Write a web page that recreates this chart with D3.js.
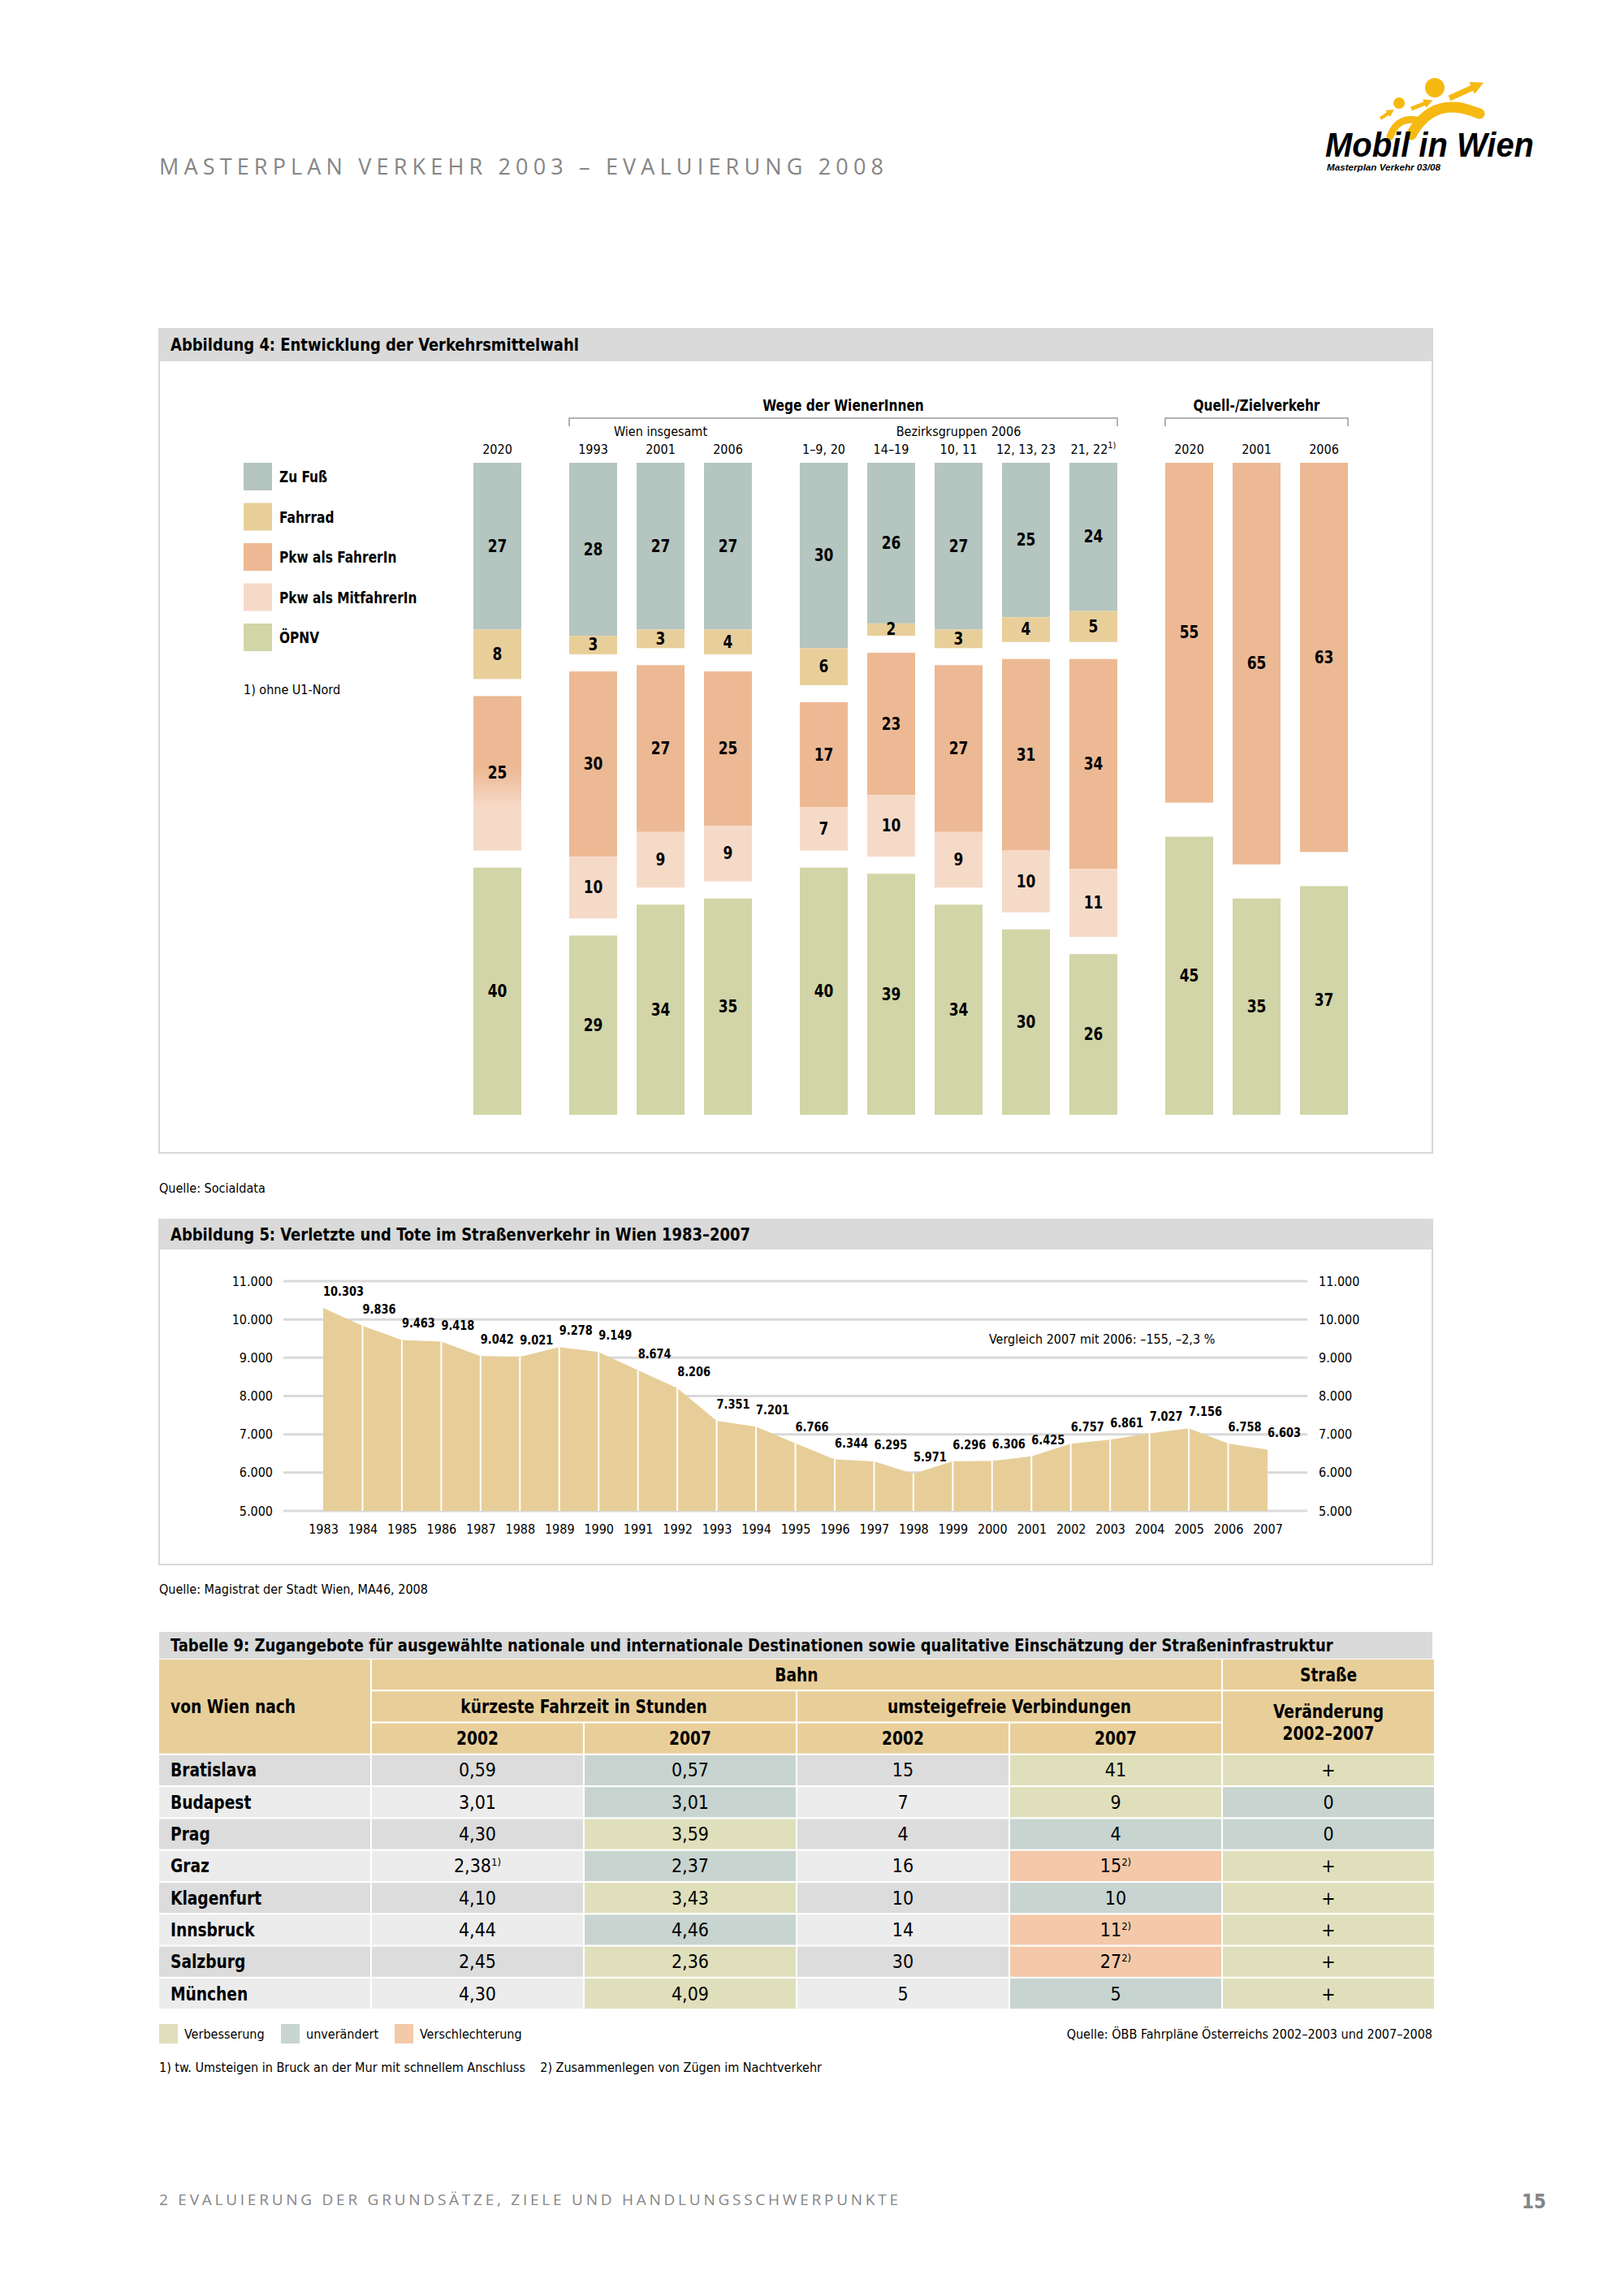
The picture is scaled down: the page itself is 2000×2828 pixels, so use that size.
<!DOCTYPE html>
<html>
<head>
<meta charset="utf-8">
<script src="https://cdn.jsdelivr.net/npm/d3@7"></script>
<style>
  body { margin: 0; background: #fff; }
  svg { display: block; }
</style>
</head>
<body>
<div id="page"></div>
<script>
// Abbildung 4 - Verkehrsmittelwahl (Prozent)
var columns = ["2020", "1993", "2001", "2006", "1–9, 20", "14–19", "10, 11", "12, 13, 23", "21, 22", "2020", "2001", "2006"];
var columnNotes = ["", "", "", "", "", "", "", "", "1)", "", "", ""];
var columnGroups = [0, 1, 1, 1, 2, 2, 2, 2, 2, 3, 3, 3];
var zuFuss       = [27, 28, 27, 27, 30, 26, 27, 25, 24, 0, 0, 0];
var fahrrad      = [8, 3, 3, 4, 6, 2, 3, 4, 5, 0, 0, 0];
var pkwFahrer    = [25, 30, 27, 25, 17, 23, 27, 31, 34, 55, 65, 63];
var pkwMitfahrer = [null, 10, 9, 9, 7, 10, 9, 10, 11, 0, 0, 0]; // null = zusammen mit FahrerIn
var oepnv        = [40, 29, 34, 35, 40, 39, 34, 30, 26, 45, 35, 37];
var modeNames = ["Zu Fuß", "Fahrrad", "Pkw als FahrerIn", "Pkw als MitfahrerIn", "ÖPNV"];
var modeColors = ["#b5c5bf", "#e8cf9a", "#ecb994", "#f6dac8", "#d1d5a7"];

// Abbildung 5 - Verletzte und Tote
var years = d3.range(1983, 2008);
var verletzte = [10303, 9836, 9463, 9418, 9042, 9021, 9278, 9149, 8674, 8206, 7351, 7201, 6766,
                 6344, 6295, 5971, 6296, 6306, 6425, 6757, 6861, 7027, 7156, 6758, 6603];
var yTicks = [5000, 6000, 7000, 8000, 9000, 10000, 11000];

// Tabelle 9
var destinations = ["Bratislava", "Budapest", "Prag", "Graz", "Klagenfurt", "Innsbruck", "Salzburg", "München"];
var zeit2002 = [0.59, 3.01, 4.30, 2.38, 4.10, 4.44, 2.45, 4.30];
var zeit2002Notes = ["", "", "", "1)", "", "", "", ""];
var zeit2007 = [0.57, 3.01, 3.59, 2.37, 3.43, 4.46, 2.36, 4.09];
var verb2002 = [15, 7, 4, 16, 10, 14, 30, 5];
var verb2007 = [41, 9, 4, 15, 10, 11, 27, 5];
var verb2007Notes = ["", "", "", "2)", "", "2)", "2)", ""];
var strasse = ["+", "0", "0", "+", "+", "+", "+", "+"];
// + Verbesserung, = unverändert, - Verschlechterung
var zeit2007Status = ["=", "=", "+", "=", "+", "=", "+", "+"];
var verb2007Status = ["+", "+", "=", "-", "=", "-", "-", "="];
var strasseStatus  = ["+", "=", "=", "+", "+", "+", "+", "+"];
var statusNames = ["Verbesserung", "unverändert", "Verschlechterung"];
var statusColors = {"+": "#dfe0bb", "=": "#c8d4d0", "-": "#f3c9a9"};

var FONT = "'Liberation Sans Narrow','DejaVu Sans Condensed','Open Sans',sans-serif";
var de = d3.formatLocale({decimal: ",", thousands: ".", grouping: [3], currency: ["", " €"]});
var fmtInt = de.format(",d"), fmt2 = de.format(".2f");

var svg = d3.select("#page").append("svg")
  .attr("width", 2000).attr("height", 2828)
  .style("font-family", FONT);

// ---------- Kopf / Fuss ----------
svg.append("text").attr("class", "keep").attr("x", 196).attr("y", 215)
  .attr("textLength", 892).attr("lengthAdjust", "spacing")
  .style("font-family", "'Open Sans',sans-serif").style("font-size", "27px").style("fill", "#858585")
  .text("MASTERPLAN VERKEHR 2003 – EVALUIERUNG 2008");

var logo = svg.append("g");
var yellow = "#f6b912";
logo.append("circle").attr("cx", 1767).attr("cy", 108).attr("r", 12).attr("fill", yellow);
logo.append("circle").attr("cx", 1723).attr("cy", 127).attr("r", 7).attr("fill", yellow);
logo.append("path").attr("d", "M1738,166 Q1760,126 1800,133 Q1815,137 1822,140")
  .attr("fill", "none").attr("stroke", yellow).attr("stroke-width", 13).attr("stroke-linecap", "round");
logo.append("path").attr("d", "M1712,168 Q1722,140 1752,150")
  .attr("fill", "none").attr("stroke", yellow).attr("stroke-width", 9).attr("stroke-linecap", "round");
[[1785, 121, 1818, 106, 10], [1738, 134, 1758, 126, 7], [1700, 146, 1712, 138, 6]].forEach(function(a) {
  logo.append("line").attr("x1", a[0]).attr("y1", a[1]).attr("x2", a[2]).attr("y2", a[3])
    .attr("stroke", yellow).attr("stroke-width", a[4] * 0.7);
  var ang = Math.atan2(a[3] - a[1], a[2] - a[0]), s = a[4];
  logo.append("path").attr("fill", yellow)
    .attr("d", "M" + (a[2] + s * Math.cos(ang)) + "," + (a[3] + s * Math.sin(ang)) +
      "L" + (a[2] + s * Math.cos(ang + 2.2)) + "," + (a[3] + s * Math.sin(ang + 2.2)) +
      "L" + (a[2] + s * Math.cos(ang - 2.2)) + "," + (a[3] + s * Math.sin(ang - 2.2)) + "Z");
});
logo.append("text").attr("class", "keep").attr("x", 1632).attr("y", 193).attr("textLength", 257).attr("lengthAdjust", "spacingAndGlyphs")
  .style("font-family", "'Liberation Sans',sans-serif").style("font-style", "italic").style("font-weight", "bold")
  .style("font-size", "42px").text("Mobil in Wien");
logo.append("text").attr("class", "keep").attr("x", 1634).attr("y", 210).attr("textLength", 140).attr("lengthAdjust", "spacingAndGlyphs")
  .style("font-family", "'Liberation Sans',sans-serif").style("font-style", "italic").style("font-weight", "bold")
  .style("font-size", "11px").text("Masterplan Verkehr 03/08");

svg.append("text").attr("class", "keep").attr("x", 196).attr("y", 2716)
  .attr("textLength", 910).attr("lengthAdjust", "spacing")
  .style("font-family", "'Open Sans',sans-serif").style("font-size", "19px").style("fill", "#858585")
  .text("2 EVALUIERUNG DER GRUNDSÄTZE, ZIELE UND HANDLUNGSSCHWERPUNKTE");
svg.append("text").attr("class", "keep").attr("x", 1904).attr("y", 2720).attr("text-anchor", "end")
  .style("font-size", "24px").style("font-weight", "bold").style("fill", "#858585").text("15");

function panel(y0, h, hh, title) {
  svg.append("rect").attr("x", 196).attr("y", y0).attr("width", 1568).attr("height", h)
    .attr("fill", "#fff").attr("stroke", "#d8d8d8").attr("stroke-width", 2);
  svg.append("rect").attr("x", 196).attr("y", y0).attr("width", 1568).attr("height", hh).attr("fill", "#d9dad9");
  svg.append("text").attr("class", "title").attr("x", 210).attr("y", y0 + hh / 2 + 7)
    .style("font-size", "21px").style("font-weight", "bold").text(title);
}

// ---------- Abbildung 4 ----------
panel(405, 1015, 40, "Abbildung 4: Entwicklung der Verkehrsmittelwahl");

var g1 = svg.append("g");
var band = d3.scaleBand().domain(d3.range(columns.length)).range([571, 571 + 83 * columns.length])
  .paddingInner(24 / 83).paddingOuter(12 / 83);
var xCol = function(i) { return band(i) + columnGroups[i] * 35; };
var barTop = 570, gap = 21;
var h = d3.scaleLinear().domain([0, 100]).range([0, 761]);
var barBottom = barTop + h(100) + 2 * gap;

var defs = svg.append("defs");
var grad = defs.append("linearGradient").attr("id", "pkwGrad").attr("x1", 0).attr("y1", 0).attr("x2", 0).attr("y2", 1);
grad.append("stop").attr("offset", "47%").attr("stop-color", modeColors[2]);
grad.append("stop").attr("offset", "72%").attr("stop-color", modeColors[3]);

var segments = [];
columns.forEach(function(c, i) {
  var y = barTop;
  [[zuFuss[i], 0], [fahrrad[i], 1]].forEach(function(s) {
    if (s[0] > 0) { segments.push({i: i, v: s[0], y: y, hgt: h(s[0]), fill: modeColors[s[1]]}); y += h(s[0]); }
  });
  if (y > barTop) y += gap;
  if (pkwMitfahrer[i] === null) {
    segments.push({i: i, v: pkwFahrer[i], y: y, hgt: h(pkwFahrer[i]), fill: "url(#pkwGrad)"});
    y += h(pkwFahrer[i]);
  } else {
    [[pkwFahrer[i], 2], [pkwMitfahrer[i], 3]].forEach(function(s) {
      if (s[0] > 0) { segments.push({i: i, v: s[0], y: y, hgt: h(s[0]), fill: modeColors[s[1]]}); y += h(s[0]); }
    });
  }
  segments.push({i: i, v: oepnv[i], y: barBottom - h(oepnv[i]), hgt: h(oepnv[i]), fill: modeColors[4]});
});

g1.selectAll("rect.seg").data(segments).enter().append("rect").attr("class", "seg")
  .attr("x", function(d) { return xCol(d.i); }).attr("y", function(d) { return d.y; })
  .attr("width", band.bandwidth()).attr("height", function(d) { return d.hgt; })
  .attr("fill", function(d) { return d.fill; });
g1.selectAll("text.seg").data(segments).enter().append("text").attr("class", "seg")
  .attr("x", function(d) { return xCol(d.i) + band.bandwidth() / 2; })
  .attr("y", function(d) { return d.y + d.hgt / 2 + 7; })
  .attr("text-anchor", "middle").style("font-size", "21px").style("font-weight", "bold")
  .text(function(d) { return d.v; });

var colLabels = g1.selectAll("text.col").data(columns).enter().append("text").attr("class", "col")
  .attr("x", function(d, i) { return xCol(i) + band.bandwidth() / 2; }).attr("y", 559)
  .attr("text-anchor", "middle").style("font-size", "16px");
colLabels.append("tspan").text(function(d) { return d; });
colLabels.append("tspan").attr("dy", -7).style("font-size", "11px").text(function(d, i) { return columnNotes[i]; });

function bracket(i0, i1, label) {
  var xa = xCol(i0), xb = xCol(i1) + band.bandwidth();
  g1.append("path").attr("d", "M" + xa + ",525V515H" + xb + "V525")
    .attr("fill", "none").attr("stroke", "#9a9a9a").attr("stroke-width", 1.5);
  g1.append("text").attr("x", (xa + xb) / 2).attr("y", 506).attr("text-anchor", "middle")
    .style("font-size", "19px").style("font-weight", "bold").text(label);
}
bracket(1, 8, "Wege der WienerInnen");
bracket(9, 11, "Quell-/Zielverkehr");
[[1, 3, "Wien insgesamt"], [4, 8, "Bezirksgruppen 2006"]].forEach(function(s) {
  g1.append("text").attr("x", (xCol(s[0]) + xCol(s[1]) + band.bandwidth()) / 2).attr("y", 537)
    .attr("text-anchor", "middle").style("font-size", "16px").text(s[2]);
});

var leg = g1.selectAll("g.leg").data(modeNames).enter().append("g").attr("class", "leg")
  .attr("transform", function(d, i) { return "translate(300," + (570 + i * 49.5) + ")"; });
leg.append("rect").attr("width", 35).attr("height", 34).attr("fill", function(d, i) { return modeColors[i]; });
leg.append("text").attr("x", 44).attr("y", 24).style("font-size", "19px").style("font-weight", "bold")
  .text(function(d) { return d; });
g1.append("text").attr("x", 300).attr("y", 855).style("font-size", "16px").text("1) ohne U1-Nord");

svg.append("text").attr("x", 196).attr("y", 1469).style("font-size", "16px").text("Quelle: Socialdata");

// ---------- Abbildung 5 ----------
panel(1502, 425, 37, "Abbildung 5: Verletzte und Tote im Straßenverkehr in Wien 1983–2007");
var g2 = svg.append("g");
var x = d3.scaleLinear().domain([1983, 2007]).range([398, 1561]);
var y = d3.scaleLinear().domain([5000, 11000]).range([1861, 1578]);

g2.selectAll("line.grid").data(yTicks).enter().append("line").attr("class", "grid")
  .attr("x1", 349).attr("x2", 1610).attr("y1", y).attr("y2", y)
  .attr("stroke", "#d9d9d9").attr("stroke-width", 3);
g2.append("g").attr("transform", "translate(336,0)")
  .call(d3.axisLeft(y).tickValues(yTicks).tickSize(0).tickPadding(0).tickFormat(fmtInt))
  .call(function(a) { a.select(".domain").remove(); a.selectAll("text").style("font-size", "16px").style("font-family", FONT); });
g2.append("g").attr("transform", "translate(1624,0)")
  .call(d3.axisRight(y).tickValues(yTicks).tickSize(0).tickPadding(0).tickFormat(fmtInt))
  .call(function(a) { a.select(".domain").remove(); a.selectAll("text").style("font-size", "16px").style("font-family", FONT); });

var pts = years.map(function(yr, i) { return {year: yr, v: verletzte[i]}; });
g2.append("path").datum(pts)
  .attr("d", d3.area().x(function(d) { return x(d.year); }).y0(y(5000)).y1(function(d) { return y(d.v); }))
  .attr("fill", "#e7ce99");
g2.selectAll("line.sep").data(pts.slice(1, -1)).enter().append("line").attr("class", "sep")
  .attr("x1", function(d) { return x(d.year); }).attr("x2", function(d) { return x(d.year); })
  .attr("y1", y(5000)).attr("y2", function(d) { return y(d.v); })
  .attr("stroke", "#fff").attr("stroke-width", 2);
g2.selectAll("text.val").data(pts).enter().append("text").attr("class", "val")
  .attr("x", function(d) { return x(d.year); }).attr("y", function(d) { return y(d.v) - 15; })
  .style("font-size", "16px").style("font-weight", "bold")
  .text(function(d) { return fmtInt(d.v); });
g2.append("g").attr("transform", "translate(0," + y(5000) + ")")
  .call(d3.axisBottom(x).tickValues(years).tickSize(0).tickPadding(17).tickFormat(d3.format("d")))
  .call(function(a) { a.select(".domain").remove(); a.selectAll("text").style("font-size", "16px").style("font-family", FONT); });
g2.append("text").attr("x", 1218).attr("y", 1655).style("font-size", "16px")
  .text("Vergleich 2007 mit 2006: –155, –2,3 %");

svg.append("text").attr("x", 196).attr("y", 1963).style("font-size", "16px")
  .text("Quelle: Magistrat der Stadt Wien, MA46, 2008");

// ---------- Tabelle 9 ----------
svg.append("rect").attr("x", 196).attr("y", 2010).attr("width", 1568).attr("height", 33).attr("fill", "#d9dad9");
svg.append("text").attr("class", "title").attr("x", 210).attr("y", 2034).style("font-size", "21px").style("font-weight", "bold")
  .text("Tabelle 9: Zugangebote für ausgewählte nationale und internationale Destinationen sowie qualitative Einschätzung der Straßeninfrastruktur");

var g3 = svg.append("g");
var cx = d3.scaleBand().domain(d3.range(6)).range([196, 1766]).paddingInner(0.008).paddingOuter(0);
var ry = d3.scaleBand().domain(d3.range(11)).range([2044, 2044 + 11 * 39.1]).paddingInner(0.055).paddingOuter(0);
var tan = "#e8cf99";
function cell(c0, c1, r0, r1, fill) {
  g3.append("rect").attr("x", cx(c0)).attr("y", ry(r0))
    .attr("width", cx(c1) + cx.bandwidth() - cx(c0)).attr("height", ry(r1) + ry.bandwidth() - ry(r0))
    .attr("fill", fill);
}
function ctext(c0, c1, yy, txt, bold) {
  g3.append("text").attr("x", (cx(c0) + cx(c1) + cx.bandwidth()) / 2).attr("y", yy)
    .attr("text-anchor", "middle").style("font-size", "23px").style("font-weight", bold ? "bold" : "normal").text(txt);
}
cell(0, 0, 0, 2, tan); cell(1, 4, 0, 0, tan); cell(5, 5, 0, 0, tan);
cell(1, 2, 1, 1, tan); cell(3, 4, 1, 1, tan); cell(5, 5, 1, 2, tan);
[1, 2, 3, 4].forEach(function(c) { cell(c, c, 2, 2, tan); });
var mid = function(r) { return ry(r) + ry.bandwidth() / 2 + 8; };
g3.append("text").attr("x", 210).attr("y", mid(1)).style("font-size", "23px").style("font-weight", "bold").text("von Wien nach");
ctext(1, 4, mid(0), "Bahn", true);
ctext(5, 5, mid(0), "Straße", true);
ctext(1, 2, mid(1), "kürzeste Fahrzeit in Stunden", true);
ctext(3, 4, mid(1), "umsteigefreie Verbindungen", true);
ctext(5, 5, mid(1) + 6, "Veränderung", true);
ctext(5, 5, mid(2) - 6, "2002–2007", true);
["2002", "2007", "2002", "2007"].forEach(function(t, k) { ctext(k + 1, k + 1, mid(2), t, true); });

var rows = destinations.map(function(d, i) {
  return [
    {text: d, fill: null},
    {text: fmt2(zeit2002[i]), note: zeit2002Notes[i], fill: null},
    {text: fmt2(zeit2007[i]), fill: statusColors[zeit2007Status[i]]},
    {text: verb2002[i], fill: null},
    {text: verb2007[i], note: verb2007Notes[i], fill: statusColors[verb2007Status[i]]},
    {text: strasse[i], fill: statusColors[strasseStatus[i]]}
  ];
});
var rowG = g3.selectAll("g.row").data(rows).enter().append("g").attr("class", "row");
rowG.each(function(r, i) {
  var gg = d3.select(this), rr = i + 3;
  var grey = i % 2 === 0 ? "#dcdcdc" : "#ececec";
  r.forEach(function(c, k) {
    gg.append("rect").attr("x", cx(k)).attr("y", ry(rr)).attr("width", cx.bandwidth()).attr("height", ry.bandwidth())
      .attr("fill", c.fill || grey);
    var t = gg.append("text").attr("y", mid(rr)).style("font-size", "23px");
    if (k === 0) {
      t.attr("x", 210).style("font-weight", "bold").text(c.text);
    } else {
      t.attr("x", cx(k) + cx.bandwidth() / 2).attr("text-anchor", "middle");
      t.append("tspan").text(c.text);
      if (c.note) t.append("tspan").attr("dy", -8).style("font-size", "13px").text(c.note);
    }
  });
});

var sl = g3.selectAll("g.sleg").data(statusNames).enter().append("g").attr("class", "sleg")
  .attr("transform", function(d, i) { return "translate(" + [196, 346, 486][i] + ",2493)"; });
sl.append("rect").attr("width", 23).attr("height", 24).attr("fill", function(d, i) { return statusColors[["+", "=", "-"][i]]; });
sl.append("text").attr("x", 31).attr("y", 18).style("font-size", "16px").text(function(d) { return d; });
g3.append("text").attr("x", 1764).attr("y", 2511).attr("text-anchor", "end").style("font-size", "16px")
  .text("Quelle: ÖBB Fahrpläne Österreichs 2002–2003 und 2007–2008");
g3.append("text").attr("x", 196).attr("y", 2552).style("font-size", "16px").attr("xml:space", "preserve")
  .text("1) tw. Umsteigen in Bruck an der Mur mit schnellem Anschluss    2) Zusammenlegen von Zügen im Nachtverkehr");

// the original uses a narrow bold face: squeeze the bold fallback a little
function condense(sel, f) {
  sel.each(function() {
    var w = this.getComputedTextLength();
    if (w > 0) d3.select(this).attr("textLength", w * f).attr("lengthAdjust", "spacingAndGlyphs");
  });
}
condense(svg.selectAll("text.title"), 0.95);
condense(svg.selectAll("text").filter(function() {
  return !this.classList.contains("title") && !this.classList.contains("keep") &&
    this.style.fontWeight === "bold";
}), 0.9);
</script>
</body>
</html>
